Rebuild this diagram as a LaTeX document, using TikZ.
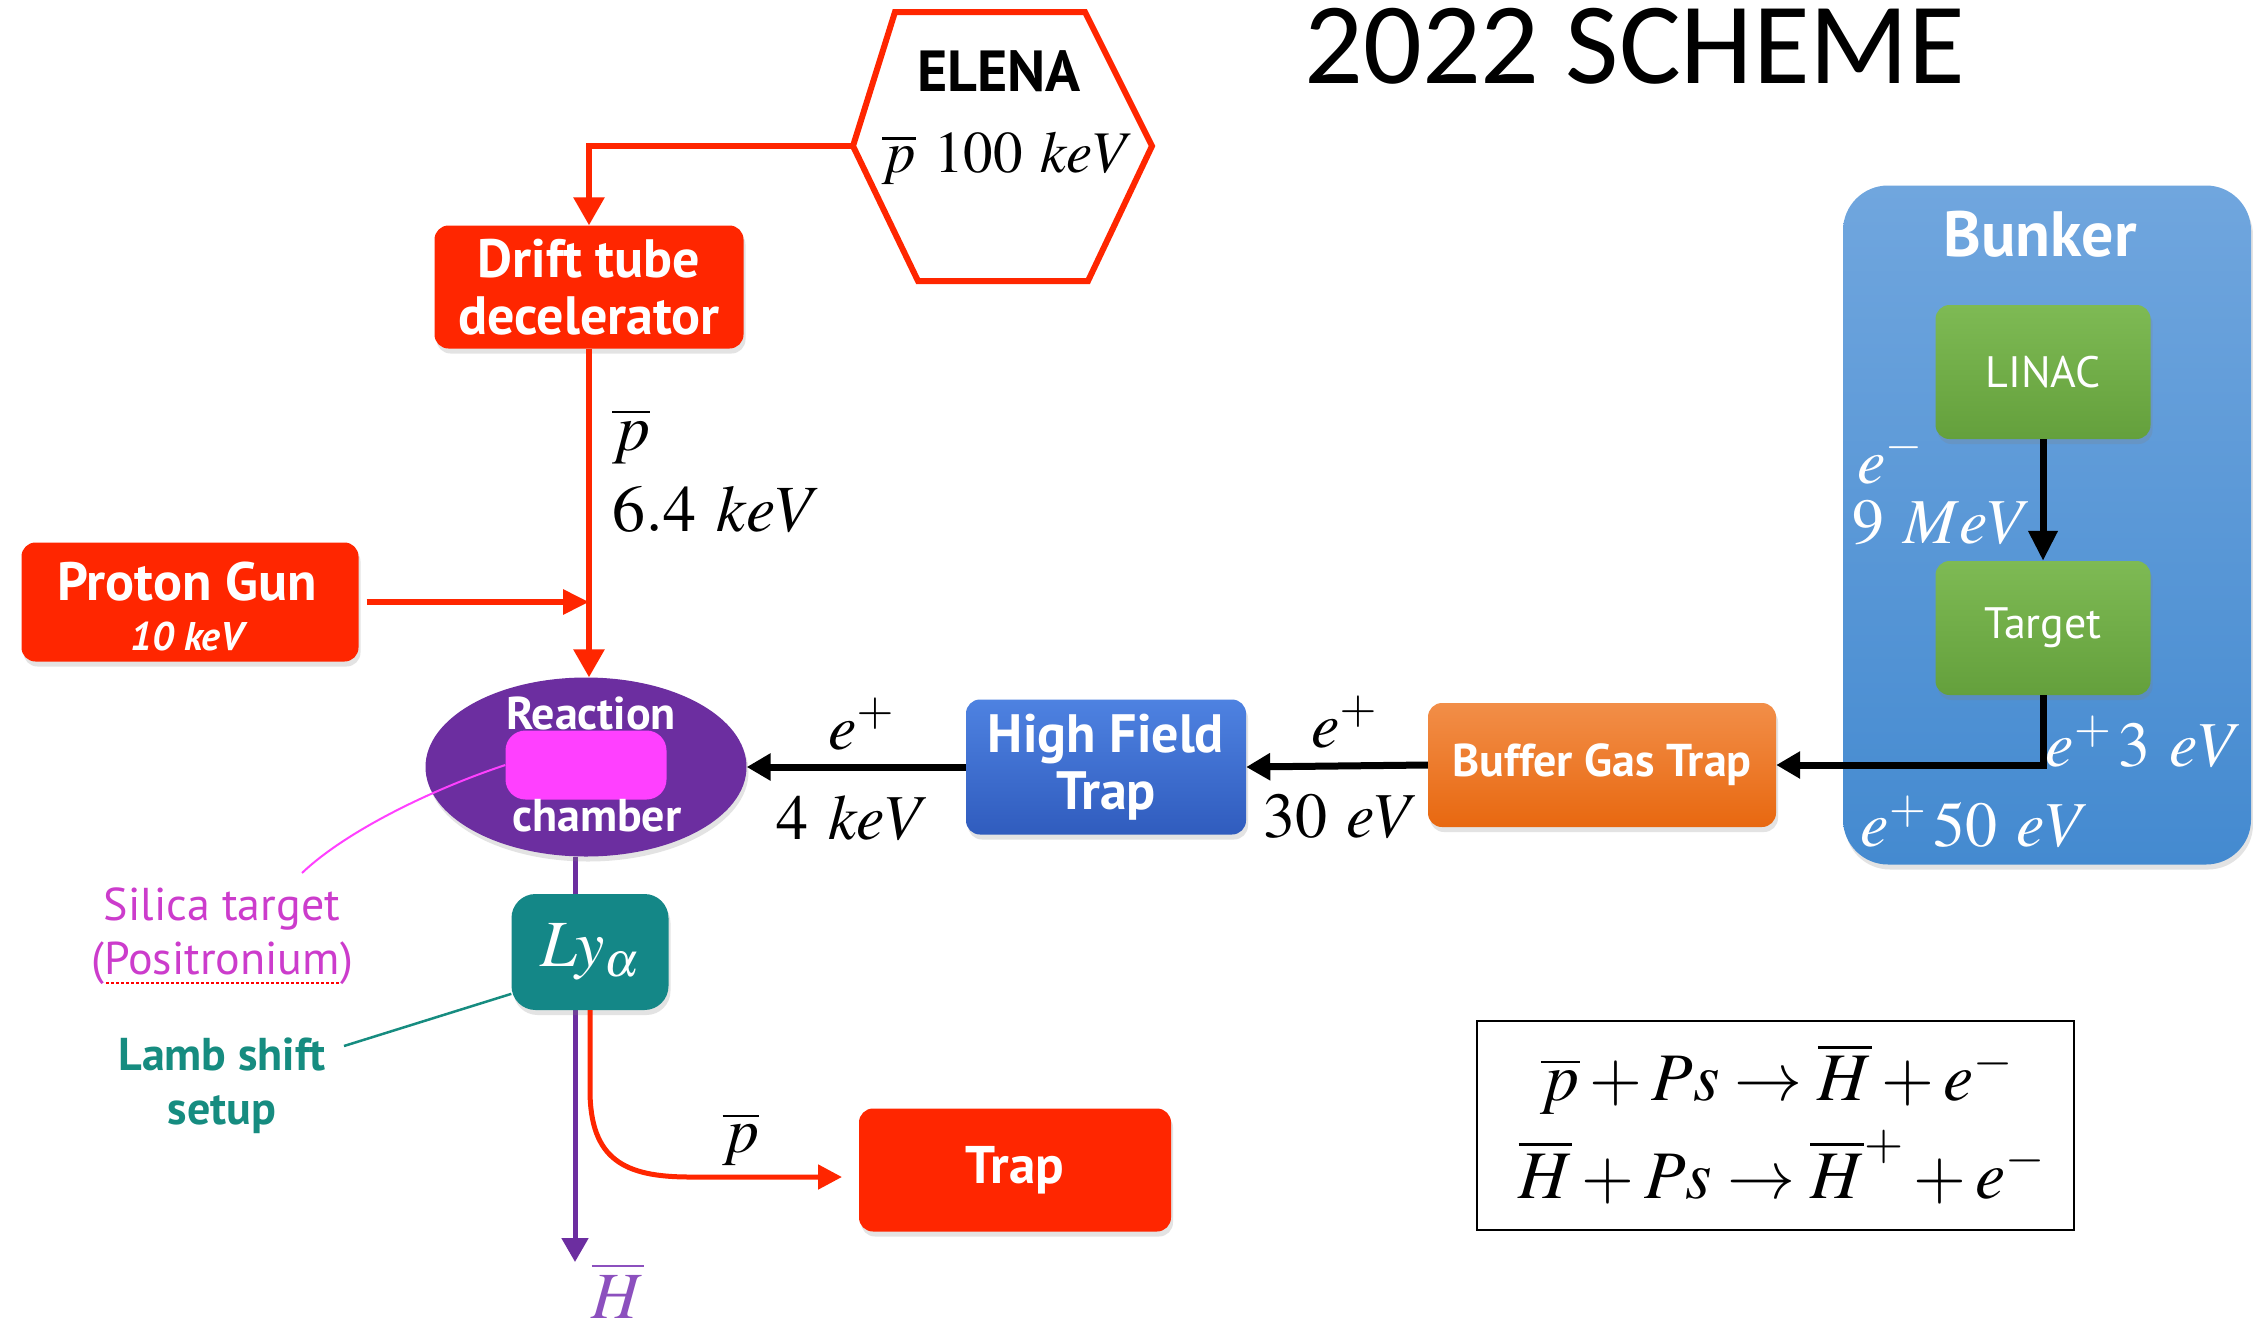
\documentclass[tikz,border=0pt]{standalone}
\usepackage{mathptmx}
\usepackage[no-math]{fontspec}
\newfontfamily\labf{PT Sans}
\newfontfamily\ttlf{Carlito}
\usetikzlibrary{arrows.meta,shapes.geometric,shadows}
\definecolor{myred}{RGB}{255,38,0}
\definecolor{mypurple}{RGB}{108,46,160}
\definecolor{mymag}{RGB}{255,64,255}
\definecolor{silicac}{RGB}{204,60,204}
\definecolor{myteal}{RGB}{20,135,135}
\definecolor{lambc}{RGB}{22,140,128}
\definecolor{bluetop}{RGB}{78,130,225}
\definecolor{bluebot}{RGB}{48,92,190}
\definecolor{orgtop}{RGB}{242,142,72}
\definecolor{orgbot}{RGB}{232,104,16}
\definecolor{bunktop}{RGB}{112,166,222}
\definecolor{bunkbot}{RGB}{68,138,208}
\definecolor{grntop}{RGB}{126,186,84}
\definecolor{grnbot}{RGB}{100,160,60}
\definecolor{hbarc}{RGB}{140,80,190}
\pgfdeclarelayer{back}
\pgfdeclarelayer{lines}
\pgfsetlayers{back,lines,main}
\begin{document}
\begin{tikzpicture}[x=1pt,y=-1pt,
  shadowed/.style={drop shadow={shadow xshift=2pt,shadow yshift=-5pt,opacity=0.22}},
  boxbase/.style={shadowed,rectangle,inner sep=0pt,align=center,text=white},
  redbox/.style={boxbase,rounded corners=14pt,fill=myred,font=\labf\bfseries\fontsize{54}{57}\selectfont},
  bluebox/.style={boxbase,rounded corners=14pt,top color=bluetop,bottom color=bluebot,font=\labf\bfseries\fontsize{54}{57}\selectfont},
  orangebox/.style={boxbase,rounded corners=14pt,top color=orgtop,bottom color=orgbot,font=\labf\bfseries\fontsize{46}{50}\selectfont},
  greenbox/.style={boxbase,rounded corners=14pt,top color=grntop,bottom color=grnbot,font=\labf\fontsize{44}{48}\selectfont,minimum width=215pt,minimum height=134pt},
  mathlbl/.style={inner sep=0pt,font=\fontsize{64}{70}\selectfont},
  redarrow/.style={draw=myred,line width=6pt,-{Triangle[length=28pt,width=30pt]}},
  blackarrow/.style={draw=black,line width=7pt,-{Triangle[length=24pt,width=26pt]}}
]
\useasboundingbox (0,0) rectangle (2253,1328);
\begin{pgfonlayer}{back}
\fill[white] (0,0) rectangle (2253,1328);
\end{pgfonlayer}

% title
\node[font=\ttlf\fontsize{116}{120}\selectfont,inner sep=0pt,anchor=base] (title) at (1635,83) {2022 SCHEME};

% ELENA
\draw[myred,line width=6pt,line join=miter] (895,12) -- (1085,12) -- (1152,146) -- (1088,281) -- (918,281) -- (853,146) -- cycle;
\coordinate (elenaL) at (853,146);
\node[font=\labf\bfseries\fontsize{58}{60}\selectfont,inner sep=0pt] (elena) at (999,71) {ELENA};
\node[mathlbl,font=\fontsize{59}{60}\selectfont] (elenaE) at (1008,158) {$\overline{p}\ 100\ keV$};

% drift tube
\node[redbox,minimum width=309pt,minimum height=123pt] (drift) at (589,287) {Drift tube\\decelerator};
\draw[redarrow] (elenaL) -| (drift.north);

% proton gun
\node[redbox,minimum width=337pt,minimum height=119pt] (proton) at (190,602) {};
\node[text=white,inner sep=0pt,font=\labf\bfseries\fontsize{54}{57}\selectfont] (protonA) at (187,582) {Proton Gun};
\node[text=white,inner sep=0pt,font=\labf\bfseries\itshape\fontsize{40}{44}\selectfont] (protonB) at (187,636) {10 keV};

% reaction chamber
\node[shadowed,ellipse,fill=mypurple,minimum width=321pt,minimum height=179pt,inner sep=0pt] (chamber) at (586,767) {};
\node[rectangle,rounded corners=20pt,fill=mymag,minimum width=161pt,minimum height=69pt,inner sep=0pt] (silicaT) at (586,765) {};
\node[text=white,inner sep=0pt,font=\labf\bfseries\fontsize{46}{50}\selectfont] (reacA) at (591,713) {Reaction};
\node[text=white,inner sep=0pt,font=\labf\bfseries\fontsize{46}{50}\selectfont] (reacB) at (597,816) {chamber};

\draw[redarrow] (drift.south) -- (drift.south |- chamber.north);
\draw[redarrow,-{Triangle[length=26pt,width=24pt]}] ([xshift=8pt]proton.east) -- (proton.east -| drift.south);

% silica label
\node[text=silicac,align=center,inner sep=0pt,font=\labf\fontsize{46}{54}\selectfont] (silica) at (222,936) {Silica target\\(Positronium)};
\coordinate (silicaE) at (302,873);
\draw[mymag,line width=2pt] (silicaT.west) .. controls (430,790) and (345,832) .. (silicaE);
\draw[red,line width=2.5pt,dash pattern=on 2.5pt off 2.5pt] (106,983) -- (340,983);

% Lyman alpha
\node[boxbase,rounded corners=24pt,fill=myteal,minimum width=157pt,minimum height=116pt,font=\fontsize{66}{70}\selectfont] (lya) at (590,952) {$Ly_\alpha$};
\node[text=lambc,align=center,inner sep=0pt,font=\labf\bfseries\fontsize{46}{54}\selectfont] (lamb) at (222,1086) {Lamb shift\\setup};
\coordinate (lambE) at (344,1046);
\draw[lambc,line width=2.5pt] (lambE) -- (lya.208);

% antihydrogen line
\coordinate (hEnd) at (575,1262);
\begin{pgfonlayer}{lines}
\draw[mypurple,line width=5pt,-{Triangle[length=24pt,width=26pt]}] (chamber.south -| hEnd) -- (hEnd);
\end{pgfonlayer}
\node[text=hbarc,anchor=north,inner sep=0pt,font=\fontsize{66}{70}\selectfont] (hbar) at (618,1262) {$\overline{H}$};

% trap
\node[redbox,minimum width=312pt,minimum height=123pt,font=\labf\bfseries\fontsize{53}{57}\selectfont] (trap) at (1015,1170) {Trap};
\coordinate (trapIn) at (842,1177);
\draw[redarrow,line width=5pt,-{Triangle[length=24pt,width=24pt]}] (lya.south) -- (590,1090) .. controls (590,1160) and (625,1177) .. (690,1177) -- (trapIn);
\node[mathlbl] (pbarT) at (741,1139) {$\overline{p}$};

% drift labels
\node[mathlbl,anchor=base west,font=\fontsize{66}{70}\selectfont] (pbarD) at (612,450) {$\overline{p}$};
\node[mathlbl,anchor=base west,font=\fontsize{66}{70}\selectfont] (keVD) at (612,531) {$6.4\ keV$};

% high field trap
\node[bluebox,minimum width=280pt,minimum height=135pt] (hft) at (1106,767) {High Field\\Trap};
\draw[blackarrow] (hft.west) -- (chamber.east);
\node[mathlbl] (eA) at (861,724) {$e^+$};
\node[mathlbl] (kA) at (853,818) {$4\ keV$};

% buffer gas trap
\node[orangebox,minimum width=348pt,minimum height=124pt] (bgt) at (1602,765) {Buffer Gas Trap};
\draw[blackarrow] (bgt.west) -- (hft.east);
\node[mathlbl] (eB) at (1344,722) {$e^+$};
\node[mathlbl] (kB) at (1341,817) {$30\ eV$};

% bunker
\node[shadowed,rectangle,rounded corners=45pt,top color=bunktop,bottom color=bunkbot,minimum width=408pt,minimum height=679pt,inner sep=0pt] (bunker) at (2047,525) {};
\node[text=white,inner sep=0pt,font=\labf\bfseries\fontsize{64}{68}\selectfont] (bunkerL) at (2040,234) {Bunker};
\node[greenbox] (linac) at (2043,372) {LINAC};
\node[greenbox] (target) at (2043,628) {Target};
\draw[blackarrow,-{Triangle[length=30pt,width=28pt]}] (linac.south) -- (target.north);
\node[mathlbl,text=white] (eC) at (1890,458) {$e^-$};
\node[mathlbl,text=white] (mC) at (1942,523) {$9\ MeV$};
\draw[blackarrow] (target.south) |- (bgt.east);
\node[mathlbl,text=white] (eD) at (2144,742) {$e^+\,3\ eV$};
\node[mathlbl,text=white] (eE) at (1975,822) {$e^+\,50\ eV$};

% equations
\node[draw=black,line width=2pt,fill=white,minimum width=597pt,minimum height=209pt,inner sep=0pt] (eqbox) at (1775,1125) {};
\node[mathlbl,font=\fontsize{68}{72}\selectfont] (eq1) at (1777,1079) {$\overline{p}+Ps\rightarrow\overline{H}+e^-$};
\node[mathlbl,font=\fontsize{68}{72}\selectfont] (eq2) at (1782,1167) {$\overline{H}+Ps\rightarrow\overline{H}^+ + e^-$};
\end{tikzpicture}
\end{document}
